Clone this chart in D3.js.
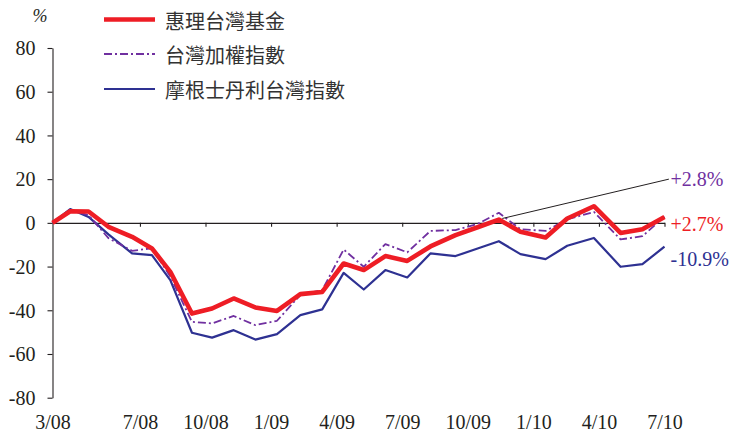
<!DOCTYPE html>
<html>
<head>
<meta charset="utf-8">
<script src="https://cdn.jsdelivr.net/npm/d3@7"></script>
<style>
  body { margin: 0; background: #fff; }
  svg text { fill: #231f20; font-family: "Liberation Serif", "DejaVu Serif", serif; }
  svg text.cjk { font-family: "Noto Sans CJK TC", sans-serif; }
</style>
</head>
<body>
<div id="wrapper"></div>
<script>
// months since 3/08 at which each point sits
var months = [0, 0.81, 1.65, 2.56, 3.64, 4.55, 5.39, 6.38, 7.30, 8.29, 9.28, 10.27, 11.34, 12.34,
  13.32, 14.24, 15.23, 16.23, 17.29, 18.44, 19.45, 20.42, 21.41, 22.56, 23.55, 24.77, 25.99, 26.99, 28]

var fund = [0, 5.3, 5.2, -1.8, -6.4, -11.7, -22.4, -41.5, -39.2, -34.6, -38.7, -40.3, -32.6, -31.6,
  -18.6, -21.6, -15.2, -17.4, -10.8, -5.6, -2.0, 1.5, -4.1, -6.7, 2.0, 7.6, -4.6, -2.9, 2.7]

var taiex = [0, 5.8, 3.5, -7.0, -12.8, -11.6, -24.5, -45.3, -46.0, -42.6, -46.8, -44.8, -33.0, -30.8,
  -12.2, -20.1, -9.7, -13.5, -3.7, -3.3, -0.5, 4.6, -2.9, -3.7, 1.6, 5.0, -7.6, -6.1, 2.8]

var msci = [0, 6.3, 2.7, -5.3, -14.0, -14.8, -26.2, -50.3, -52.5, -49.1, -53.4, -50.9, -42.2, -39.6,
  -22.9, -30.5, -21.6, -25.0, -14.0, -15.2, -11.7, -8.4, -14.3, -16.6, -10.5, -6.9, -20.1, -18.9, -10.9]

var seriesNames = ["惠理台灣基金", "台灣加權指數", "摩根士丹利台灣指數"]
var endLabels = ["+2.8%", "+2.7%", "-10.9%"]

var tickMonths = [0, 4, 7, 10, 13, 16, 19, 22, 25, 28]
var tickLabels = ["3/08", "7/08", "10/08", "1/09", "4/09", "7/09", "10/09", "1/10", "4/10", "7/10"]
var yTicks = [-80, -60, -40, -20, 0, 20, 40, 60, 80]

var width = 744, height = 434

var svg = d3.select("#wrapper").append("svg")
    .attr("width", width)
    .attr("height", height)

var xScale = d3.scaleLinear().domain([0, 28]).range([52.5, 664.5])
var yScale = d3.scaleLinear().domain([-80, 80]).range([397.7, 48])

// y axis
var yAxis = svg.append("g")
    .attr("transform", "translate(" + xScale(0) + ",0)")
    .call(d3.axisLeft(yScale).tickValues(yTicks).tickSize(5).tickSizeOuter(0).tickPadding(12)
        .tickFormat(d => String(d)))
yAxis.attr("font-family", null).attr("font-size", null)
yAxis.selectAll("path, line").attr("stroke", "#231f20").attr("stroke-width", 1.1)
yAxis.selectAll("text").attr("font-size", 20).attr("dy", "0.34em")

// zero line with month ticks
var zeroAxis = svg.append("g")
    .attr("transform", "translate(0," + yScale(0) + ")")
    .call(d3.axisBottom(xScale).tickValues(tickMonths.slice(1)).tickSize(4).tickSizeOuter(0).tickFormat(""))
zeroAxis.selectAll("path, line").attr("stroke", "#231f20").attr("stroke-width", 1.1)

// month labels along the bottom
var labelAxis = svg.append("g")
    .attr("transform", "translate(0,414)")
    .call(d3.axisBottom(xScale).tickValues(tickMonths).tickSize(0).tickPadding(0)
        .tickFormat((d, i) => tickLabels[i]))
labelAxis.attr("font-family", null).attr("font-size", null)
labelAxis.select(".domain").remove()
labelAxis.selectAll("text").attr("font-size", 20).attr("dy", "0.75em")

var lineGenerator = d3.line()
    .x((d, i) => xScale(months[i]))
    .y(d => yScale(d))

var styles = [
    { data: fund, color: "#ee1d25", w: 4.6, dash: null },
    { data: taiex, color: "#7030a0", w: 1.8, dash: "8,3,2,3" },
    { data: msci, color: "#2e3192", w: 2.2, dash: null }
]

// draw order: blue, purple, red on top
;[2, 1, 0].forEach(k => {
    var s = styles[k]
    svg.append("path")
        .attr("d", lineGenerator(s.data))
        .attr("fill", "none")
        .attr("stroke", s.color)
        .attr("stroke-width", s.w)
        .attr("stroke-linejoin", "round")
        .attr("stroke-dasharray", s.dash)
})

// leader line to the index label
svg.append("line")
    .attr("x1", xScale(20.58)).attr("y1", yScale(2.0))
    .attr("x2", xScale(28.2)).attr("y2", yScale(20))
    .attr("stroke", "#231f20")
    .attr("stroke-width", 1)

var labelX = xScale(28) + 6
svg.append("text").attr("x", labelX).attr("y", yScale(20)).attr("dy", "0.35em")
    .attr("font-size", 20).style("fill", styles[1].color).text(endLabels[0])
svg.append("text").attr("x", labelX).attr("y", yScale(fund[28]) + 7).attr("dy", "0.35em")
    .attr("font-size", 20).style("fill", styles[0].color).text(endLabels[1])
svg.append("text").attr("x", labelX).attr("y", yScale(msci[28]) + 12).attr("dy", "0.35em")
    .attr("font-size", 20).style("fill", styles[2].color).text(endLabels[2])

// % unit
svg.append("text").attr("x", 40).attr("y", 22).attr("text-anchor", "middle")
    .attr("font-size", 18).style("font-style", "italic").text("%")

// legend
var legendY = [19.5, 54, 89]
styles.forEach((s, i) => {
    svg.append("line")
        .attr("x1", 104).attr("x2", 155)
        .attr("y1", legendY[i]).attr("y2", legendY[i])
        .attr("stroke", s.color)
        .attr("stroke-width", s.w)
        .attr("stroke-dasharray", s.dash)
    svg.append("text")
        .attr("class", "cjk")
        .attr("x", 165).attr("y", legendY[i] + 2)
        .attr("dy", "0.36em")
        .attr("font-size", 20)
        .style("fill", "#333")
        .text(seriesNames[i])
})
</script>
</body>
</html>
